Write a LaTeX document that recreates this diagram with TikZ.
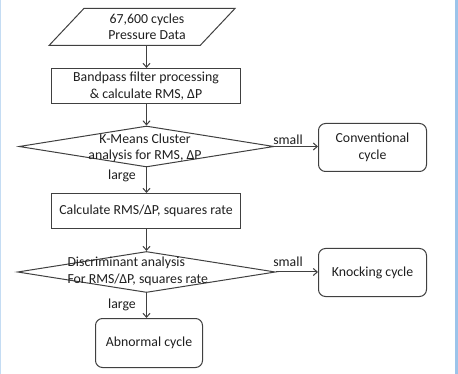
\documentclass[tikz,border=0pt]{standalone}
\usepackage{fontspec}
\setmainfont{Carlito}
\usetikzlibrary{arrows.meta, shapes.geometric}
\definecolor{cline}{HTML}{404040}
\definecolor{ctext}{HTML}{1E1E1E}
\definecolor{cframe}{HTML}{9CC4EA}
\tikzset{
  every picture/.style={font=\fontsize{13.8}{16.5}\selectfont, line width=1pt, text=ctext},
  box/.style={draw=cline, align=center, inner sep=3pt},
  step box/.style={box, minimum width=189pt, minimum height=35pt},
  end box/.style={box, rounded corners=7pt, minimum width=108pt, minimum height=48pt},
  data/.style={box, trapezium, trapezium left angle=45, trapezium right angle=135,
    trapezium stretches=true, minimum width=186pt, minimum height=37pt},
  decision/.style={draw=cline, diamond, inner sep=0pt, minimum width=#1, minimum height=41pt},
  decision/.default=255pt,
  arrow/.style={-{Straight Barb[length=4pt, width=7pt]}, draw=cline},
  note/.style={inner sep=1pt},
}

\begin{document}
\begin{tikzpicture}[x=1pt, y=-1pt]
  \useasboundingbox (0, 0) rectangle (458, 374);
  % frame edges
  \fill[cframe] (454.5, 0) rectangle (458, 374);
  \fill[cframe!60] (0, 0) rectangle (1.2, 374);

  % main column
  \node[data, inner sep=0pt] (raw) at (142, 27) {\hspace*{10pt}67,600 cycles\\\hspace*{10pt}Pressure Data};
  \node[step box] (filt) at (146, 86) {Bandpass filter processing\\\& calculate RMS, ΔP};
  \node[decision] (km) at (146.5, 146.5) {};
  \node[note, align=center] (kmtxt) at (145, 148) {K-Means Cluster\\analysis for RMS, ΔP};
  \node[step box] (rate) at (146, 211) {Calculate RMS/ΔP, squares rate};
  \node[decision=258pt] (da) at (146.5, 272) {};
  \node[note, align=left, anchor=west] (datxt) at (66, 271.5) {Discriminant analysis\\For RMS/ΔP, squares rate};
  \node[end box, minimum width=107pt, minimum height=49pt] (abn) at (149, 343) {Abnormal cycle};

  % results on the right
  \node[end box] (conv) at (372.5, 147.5) {Conventional\\cycle};
  \node[end box] (knock) at (372.5, 272.5) {Knocking cycle};

  \draw[arrow] (raw.south -| km.north) -- (km.north |- filt.north);
  \draw[arrow] (filt.south -| km.north) -- (km.north);
  \draw[arrow] (km.south) -- (km.south |- rate.north);
  \draw[arrow] (rate.south -| da.north) -- (da.north);
  \draw[arrow] (da.south) -- (da.south |- abn.north);
  \draw[arrow] (km.east) -- (km.east -| conv.west);
  \draw[arrow] (da.east) -- (da.east -| knock.west);

  \node[note] (kmsmall) at (288, 139.5) {small};
  \node[note] (kmlarge) at (122, 175.5) {large};
  \node[note] (dasmall) at (288, 262) {small};
  \node[note] (dalarge) at (122, 305) {large};
\end{tikzpicture}
\end{document}
